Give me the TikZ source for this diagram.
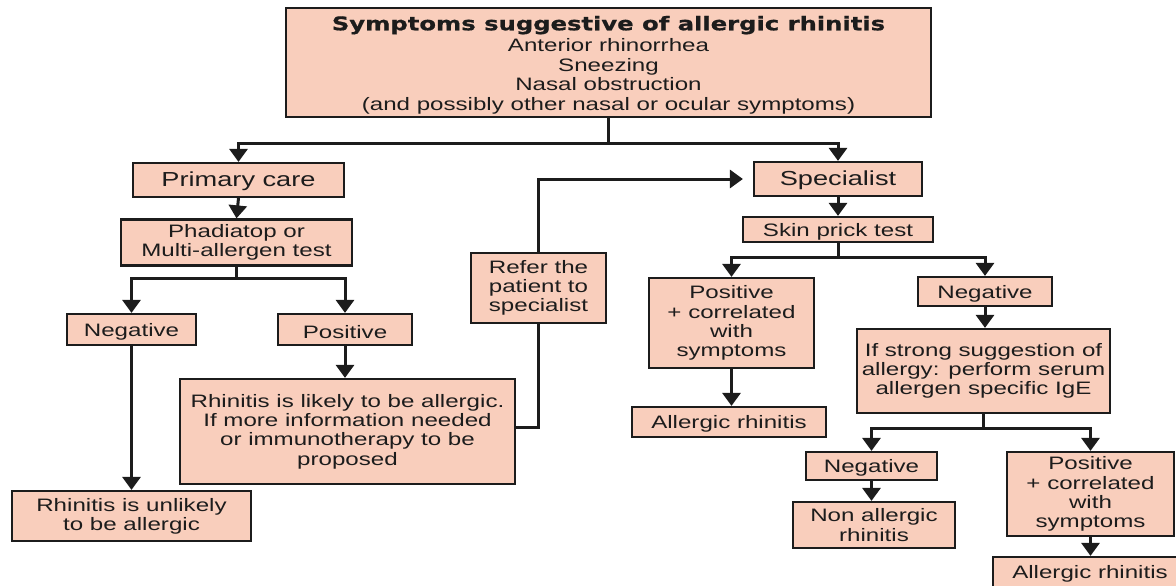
\documentclass[tikz,border=0pt]{standalone}
\usepackage{fontspec}
\setmainfont{Liberation Sans}[FakeStretch=1.34]
\newfontfamily\titlefont{DejaVu Sans}[FakeStretch=1.29, FakeBold=0.8]
\usetikzlibrary{arrows.meta}
\definecolor{boxfill}{RGB}{249,206,188}
\definecolor{ink}{RGB}{28,28,28}
\tikzset{
  box/.style={draw=ink, line width=2.2pt, fill=boxfill, inner sep=0pt, align=center,
    text=ink, font=\fontsize{18}{19.3}\selectfont,
    execute at begin node={\rule{0pt}{17.3pt}}},
  bigbox/.style={box, font=\fontsize{20.3}{21}\selectfont},
  txt/.style={inner sep=0pt, align=center, text=ink},
  conn/.style={draw=ink, line width=3pt},
  arr/.style={conn, -{Triangle[width=18pt,length=13pt]}},
}
\begin{document}
\begin{tikzpicture}[x=1pt,y=-1pt]
\useasboundingbox (0,0) rectangle (1176,586);
\clip (0,0) rectangle (1176,586);
% nodes
\node[box, minimum width=645pt, minimum height=109pt] (top) at (608.5,62.5) {};
\node[txt, font=\fontsize{18}{19.5}\selectfont] (toptext) at (608.5,65)
  {{\titlefont\fontsize{18.8}{20}\selectfont\bfseries Symptoms suggestive of allergic rhinitis}\\[2pt]
   Anterior rhinorrhea\\ Sneezing\\ Nasal obstruction\\ (and possibly other nasal or ocular symptoms)};
\node[bigbox, minimum width=211pt, minimum height=34pt] (primary) at (238.5,180) {Primary care};
\node[box, minimum width=231pt, minimum height=46pt] (phad) at (236.5,242.5) {Phadiatop or\\ Multi-allergen test};
\node[box, minimum width=129pt, minimum height=31pt] (negL) at (131.5,329.5) {Negative};
\node[box, minimum width=134pt, minimum height=31pt] (posL) at (345,329.5) {Positive};
\node[box, minimum width=335pt, minimum height=105pt] (likely) at (347.5,431.5)
  {Rhinitis is likely to be allergic.\\ If more information needed\\ or immunotherapy to be\\ proposed};
\node[box, minimum width=239pt, minimum height=50pt] (unlikely) at (131.5,516) {Rhinitis is unlikely\\ to be allergic};
\node[box, minimum width=135pt, minimum height=70pt] (refer) at (538.5,288) {Refer the\\ patient to\\ specialist};
\node[bigbox, minimum width=168pt, minimum height=34pt] (spec) at (838,179) {Specialist};
\node[box, minimum width=190pt, minimum height=25pt] (skin) at (838,229.5) {Skin prick test};
\node[box, minimum width=165pt, minimum height=90pt] (posM) at (731.5,323) {Positive\\ + correlated\\ with\\ symptoms};
\node[box, minimum width=134pt, minimum height=29pt] (negR) at (985,291.5) {Negative};
\node[box, minimum width=253pt, minimum height=84pt] (strong) at (983.5,371)
  {If strong suggestion of\\ allergy: perform serum\\ allergen specific IgE};
\node[box, minimum width=194pt, minimum height=30pt] (allM) at (729,422) {Allergic rhinitis};
\node[box, minimum width=131pt, minimum height=28pt] (negB) at (871.5,466) {Negative};
\node[box, minimum width=162pt, minimum height=46pt] (nonall) at (874,525) {Non allergic\\ rhinitis};
\node[box, minimum width=167pt, minimum height=84pt] (posR) at (1090.5,494) {Positive\\ + correlated\\ with\\ symptoms};
\node[box, minimum width=194pt, minimum height=30pt] (allR) at (1090,572) {Allergic rhinitis};
% junctions
\coordinate (j1) at (608.5,143);
\coordinate (j2) at (236.5,278);
\coordinate (j3) at (838,257);
\coordinate (j4) at (983.5,428);
% connectors
\draw[conn] (top.south) -- (j1);
\draw[arr] (j1) -| (primary.north);
\draw[arr] (j1) -| (spec.north);
\draw[arr] (primary.south) -- (phad.north);
\draw[conn] (phad.south) -- (j2);
\draw[arr] (j2) -| (negL.north);
\draw[arr] (j2) -| (posL.north);
\draw[arr] (negL.south) -- (unlikely.north);
\draw[arr] (posL.south) -- (posL.south |- likely.north);
\draw[conn] ([yshift=4.5pt]likely.east) -| (refer.south);
\draw[arr, shorten >=10pt] (refer.north) |- (spec.west);
\draw[arr] (spec.south) -- (skin.north);
\draw[conn] (skin.south) -- (j3);
\draw[arr] (j3) -| (posM.north);
\draw[arr] (j3) -| (negR.north);
\draw[arr] (posM.south) -- (posM.south |- allM.north);
\draw[arr] (negR.south) -- (negR.south |- strong.north);
\draw[conn] (strong.south) -- (j4);
\draw[arr] (j4) -| (negB.north);
\draw[arr] (j4) -| (posR.north);
\draw[arr] (negB.south) -- (negB.south |- nonall.north);
\draw[arr] (posR.south) -- (posR.south |- allR.north);
\end{tikzpicture}
\end{document}
